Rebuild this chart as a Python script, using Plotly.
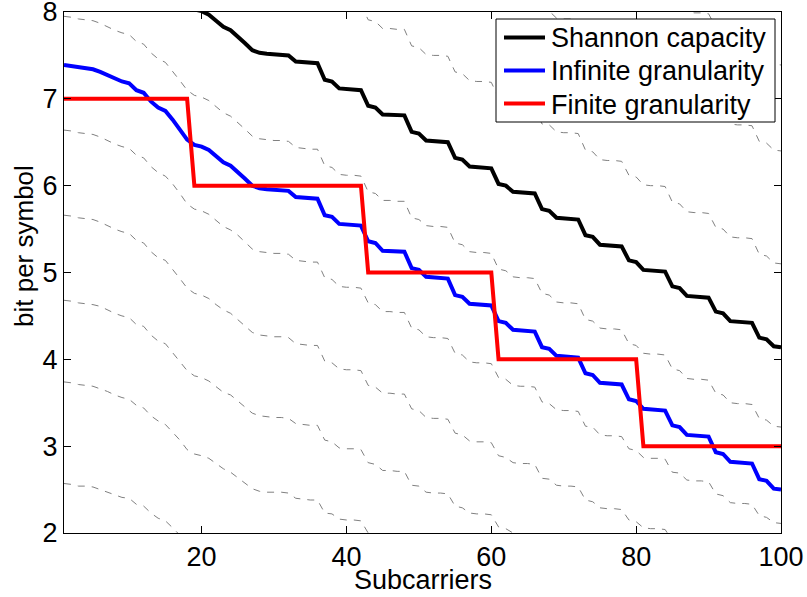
import plotly.graph_objects as go

subcarriers = list(range(1, 101))

shannon_capacity = [
    8.95, 8.94, 8.92, 8.91, 8.90, 8.87, 8.83, 8.79, 8.76, 8.74,
    8.66, 8.63, 8.53, 8.46, 8.42, 8.32, 8.21, 8.09, 8.03, 8.01,
    7.97, 7.90, 7.83, 7.79, 7.72, 7.64, 7.56, 7.53, 7.52, 7.51,
    7.51, 7.50, 7.43, 7.42, 7.41, 7.41, 7.22, 7.20, 7.12, 7.11,
    7.11, 7.10, 6.92, 6.90, 6.82, 6.82, 6.81, 6.81, 6.62, 6.60,
    6.52, 6.51, 6.51, 6.50, 6.32, 6.30, 6.22, 6.21, 6.21, 6.20,
    6.02, 6.00, 5.93, 5.92, 5.92, 5.91, 5.73, 5.71, 5.63, 5.62,
    5.62, 5.61, 5.43, 5.41, 5.32, 5.31, 5.31, 5.30, 5.14, 5.12,
    5.03, 5.02, 5.02, 5.01, 4.84, 4.82, 4.73, 4.72, 4.72, 4.71,
    4.55, 4.53, 4.44, 4.43, 4.43, 4.42, 4.25, 4.23, 4.15, 4.14,
]

infinite_granularity = [
    7.39, 7.38, 7.36, 7.35, 7.34, 7.31, 7.27, 7.23, 7.20, 7.18,
    7.10, 7.07, 6.97, 6.90, 6.86, 6.76, 6.65, 6.53, 6.47, 6.45,
    6.41, 6.34, 6.27, 6.23, 6.16, 6.08, 6.00, 5.97, 5.96, 5.95,
    5.95, 5.94, 5.87, 5.86, 5.85, 5.85, 5.66, 5.64, 5.56, 5.55,
    5.55, 5.54, 5.36, 5.34, 5.25, 5.25, 5.24, 5.24, 5.05, 5.03,
    4.95, 4.94, 4.94, 4.93, 4.74, 4.72, 4.64, 4.63, 4.63, 4.62,
    4.44, 4.42, 4.34, 4.33, 4.33, 4.32, 4.14, 4.12, 4.04, 4.03,
    4.03, 4.02, 3.84, 3.82, 3.73, 3.72, 3.72, 3.71, 3.54, 3.52,
    3.43, 3.42, 3.42, 3.41, 3.24, 3.22, 3.13, 3.12, 3.12, 3.11,
    2.93, 2.91, 2.82, 2.81, 2.81, 2.80, 2.62, 2.60, 2.51, 2.50,
]

finite_granularity = [
    7, 7, 7, 7, 7, 7, 7, 7, 7, 7, 7, 7, 7, 7, 7, 7, 7, 7,
    6, 6, 6, 6, 6, 6, 6, 6, 6, 6, 6, 6, 6, 6, 6, 6, 6, 6, 6, 6, 6, 6, 6, 6,
    5, 5, 5, 5, 5, 5, 5, 5, 5, 5, 5, 5, 5, 5, 5, 5, 5, 5,
    4, 4, 4, 4, 4, 4, 4, 4, 4, 4, 4, 4, 4, 4, 4, 4, 4, 4, 4, 4,
    3, 3, 3, 3, 3, 3, 3, 3, 3, 3, 3, 3, 3, 3, 3, 3, 3, 3, 3, 3,
]

# grey dashed curves: capacity at other SNR levels, each starts at its first subcarrier
snr_x10 = [8.29, 8.12, 8.10, 8.00, 7.99, 7.99, 7.98, 7.82, 7.80, 7.70,
           7.69, 7.69, 7.68, 7.50, 7.48, 7.40, 7.39]
snr_x10_start = 84

snr_x5 = [8.21, 8.03, 8.01, 7.93, 7.92, 7.92, 7.91, 7.73, 7.71, 7.61,
          7.60, 7.60, 7.59, 7.43, 7.41, 7.32, 7.31, 7.31, 7.30, 7.12,
          7.10, 7.01, 7.00, 7.00, 6.99, 6.82, 6.80, 6.71, 6.70, 6.70,
          6.69, 6.51, 6.49, 6.41, 6.40]
snr_x5_start = 66

snr_x2 = [8.09, 7.91, 7.89, 7.81, 7.81, 7.80, 7.80, 7.61, 7.59, 7.51,
          7.50, 7.50, 7.49, 7.31, 7.29, 7.21, 7.20, 7.20, 7.19, 7.01,
          6.99, 6.92, 6.91, 6.91, 6.90, 6.71, 6.70, 6.62, 6.61, 6.61,
          6.60, 6.41, 6.39, 6.30, 6.29, 6.29, 6.28, 6.12, 6.10, 6.01,
          6.00, 6.00, 5.99, 5.81, 5.79, 5.70, 5.69, 5.69, 5.68, 5.52,
          5.50, 5.41, 5.40, 5.40, 5.39, 5.21, 5.19, 5.11, 5.10]
snr_x2_start = 42

snr_d2 = [7.95, 7.94, 7.92, 7.91, 7.90, 7.87, 7.83, 7.79, 7.76, 7.74,
          7.66, 7.63, 7.53, 7.46, 7.42, 7.32, 7.21, 7.10, 7.04, 7.02,
          6.98, 6.91, 6.84, 6.80, 6.73, 6.65, 6.57, 6.54, 6.53, 6.52,
          6.52, 6.51, 6.44, 6.43, 6.42, 6.42, 6.23, 6.21, 6.13, 6.12,
          6.12, 6.11, 5.93, 5.91, 5.83, 5.83, 5.82, 5.82, 5.63, 5.61,
          5.54, 5.53, 5.53, 5.52, 5.34, 5.32, 5.24, 5.23, 5.23, 5.22,
          5.04, 5.02, 4.95, 4.94, 4.94, 4.93, 4.76, 4.74, 4.66, 4.65,
          4.65, 4.64, 4.46, 4.44, 4.36, 4.35, 4.35, 4.34, 4.18, 4.16,
          4.07, 4.06, 4.06, 4.05, 3.89, 3.87, 3.78, 3.77, 3.77, 3.76,
          3.61, 3.59, 3.50, 3.49, 3.49, 3.48, 3.32, 3.30, 3.23, 3.22]

snr_d5 = [6.64, 6.63, 6.61, 6.60, 6.59, 6.56, 6.52, 6.48, 6.45, 6.43,
          6.35, 6.32, 6.22, 6.15, 6.11, 6.02, 5.91, 5.79, 5.73, 5.71,
          5.67, 5.60, 5.53, 5.49, 5.43, 5.35, 5.27, 5.24, 5.23, 5.22,
          5.22, 5.21, 5.14, 5.13, 5.12, 5.12, 4.94, 4.92, 4.84, 4.83,
          4.83, 4.82, 4.65, 4.63, 4.55, 4.55, 4.54, 4.54, 4.36, 4.34,
          4.26, 4.25, 4.25, 4.24, 4.07, 4.05, 3.97, 3.96, 3.96, 3.95,
          3.79, 3.77, 3.70, 3.69, 3.69, 3.68, 3.51, 3.49, 3.42, 3.41,
          3.41, 3.40, 3.23, 3.22, 3.13, 3.12, 3.12, 3.11, 2.97, 2.95,
          2.87, 2.86, 2.86, 2.85, 2.70, 2.69, 2.61, 2.60, 2.60, 2.59,
          2.45, 2.43, 2.35, 2.34, 2.34, 2.33, 2.20, 2.18, 2.12, 2.11]

snr_d10 = [5.66, 5.65, 5.63, 5.62, 5.61, 5.58, 5.54, 5.50, 5.47, 5.45,
           5.37, 5.34, 5.24, 5.17, 5.14, 5.04, 4.93, 4.82, 4.76, 4.74,
           4.70, 4.63, 4.57, 4.53, 4.46, 4.38, 4.31, 4.28, 4.27, 4.26,
           4.26, 4.25, 4.18, 4.17, 4.16, 4.16, 3.98, 3.96, 3.89, 3.88,
           3.88, 3.87, 3.70, 3.68, 3.61, 3.61, 3.60, 3.60, 3.43, 3.41,
           3.33, 3.32, 3.32, 3.31, 3.15, 3.13, 3.06, 3.05, 3.05, 3.04,
           2.89, 2.87, 2.81, 2.80, 2.80, 2.79, 2.63, 2.62, 2.55, 2.54,
           2.54, 2.53, 2.38, 2.36, 2.29, 2.28, 2.28, 2.27, 2.15, 2.13,
           2.06, 2.05, 2.05, 2.04, 1.91, 1.90]

snr_d20 = [4.68, 4.67, 4.65, 4.64, 4.63, 4.61, 4.57, 4.53, 4.50, 4.48,
           4.40, 4.38, 4.28, 4.21, 4.18, 4.08, 3.98, 3.87, 3.81, 3.79,
           3.75, 3.69, 3.62, 3.59, 3.52, 3.45, 3.38, 3.35, 3.34, 3.33,
           3.33, 3.32, 3.26, 3.25, 3.24, 3.24, 3.07, 3.05, 2.98, 2.97,
           2.97, 2.96, 2.81, 2.79, 2.72, 2.72, 2.71, 2.71, 2.55, 2.54,
           2.47, 2.46, 2.46, 2.45, 2.31, 2.29, 2.23, 2.22, 2.22, 2.21,
           2.07, 2.05, 2.00, 1.99, 1.99, 1.98, 1.85]

snr_d40 = [3.74, 3.73, 3.71, 3.70, 3.69, 3.66, 3.63, 3.59, 3.56, 3.54,
           3.47, 3.44, 3.35, 3.29, 3.25, 3.16, 3.07, 2.96, 2.91, 2.89,
           2.86, 2.80, 2.74, 2.70, 2.64, 2.57, 2.51, 2.48, 2.47, 2.47,
           2.47, 2.46, 2.40, 2.39, 2.38, 2.38, 2.23, 2.22, 2.16, 2.15,
           2.15, 2.14, 2.00, 1.99, 1.93, 1.93]

snr_d100 = [2.57, 2.56, 2.54, 2.54, 2.53, 2.50, 2.47, 2.44, 2.41, 2.40,
            2.33, 2.31, 2.23, 2.17, 2.14, 2.06, 1.98, 1.89]

legend_names = ["Shannon capacity", "Infinite granularity", "Finite granularity"]
line_colors = ["black", "rgb(0,0,255)", "rgb(255,0,0)"]

FONT = "Liberation Sans, Arial, Helvetica, sans-serif"

fig = go.Figure()

dashed_curves = [
    (snr_x10, snr_x10_start),
    (snr_x5, snr_x5_start),
    (snr_x2, snr_x2_start),
    (snr_d2, 1),
    (snr_d5, 1),
    (snr_d10, 1),
    (snr_d20, 1),
    (snr_d40, 1),
    (snr_d100, 1),
]
for values, start in dashed_curves:
    fig.add_trace(
        go.Scatter(
            x=subcarriers[start - 1:start - 1 + len(values)],
            y=values,
            mode="lines",
            line=dict(color="rgb(128,128,128)", width=1, dash="7px,7px"),
            showlegend=False,
            hoverinfo="skip",
        )
    )

for name, values, color in zip(legend_names,
                               [shannon_capacity, infinite_granularity, finite_granularity],
                               line_colors):
    fig.add_trace(go.Scatter(x=subcarriers, y=values, mode="lines", name=name,
                             line=dict(color=color, width=4), showlegend=False))

axis_style = dict(
    showline=True,
    mirror="ticks",
    linecolor="black",
    linewidth=1,
    ticks="inside",
    ticklen=7,
    tickcolor="black",
    showgrid=False,
    zeroline=False,
    automargin=False,
    ticklabeloverflow="allow",
    tickfont=dict(family=FONT, size=27, color="black"),
)

# plot area in pixels: x 64..781, y 12..533
def px(x):
    return (x - 64) / 717


def py(y):
    return (533 - y) / 521


# legend drawn by hand so its rows sit as tight as in the reference
shapes = [dict(type="rect", xref="paper", yref="paper",
               x0=px(496), x1=px(775), y0=py(122), y1=py(19),
               line=dict(color="black", width=1), fillcolor="white", layer="above")]
annotations = []
for i, (name, color) in enumerate(zip(legend_names, line_colors)):
    row_y = 37.5 + 33 * i
    shapes.append(dict(type="line", xref="paper", yref="paper",
                       x0=px(504), x1=px(545), y0=py(row_y), y1=py(row_y),
                       line=dict(color=color, width=4), layer="above"))
    annotations.append(dict(text=name, xref="paper", yref="paper",
                            x=px(549), y=py(row_y + 1), xanchor="left", yanchor="middle",
                            showarrow=False, font=dict(family=FONT, size=27, color="black")))

annotations.append(dict(text="Subcarriers", xref="paper", yref="paper",
                        x=0.5, y=py(580), xanchor="center", yanchor="middle",
                        showarrow=False, font=dict(family=FONT, size=27, color="black")))
annotations.append(dict(text="bit per symbol", xref="paper", yref="paper",
                        x=px(24), y=py(246), xanchor="center", yanchor="middle", textangle=-90,
                        showarrow=False, font=dict(family=FONT, size=26, color="black")))

fig.update_layout(
    width=807,
    height=597,
    autosize=False,
    margin=dict(l=64, r=26, t=12, b=64, autoexpand=False),
    paper_bgcolor="white",
    plot_bgcolor="white",
    font=dict(family=FONT, size=27, color="black"),
    xaxis=dict(range=[1, 100], tickvals=[20, 40, 60, 80, 100], **axis_style),
    yaxis=dict(range=[2, 8], tickvals=[2, 3, 4, 5, 6, 7, 8], **axis_style),
    shapes=shapes,
    annotations=annotations,
    showlegend=False,
    hovermode=False,
)

# the page body has a default 8px margin; drop it so the figure fills the window
fig.write_html(
    "out.html",
    config={"displayModeBar": False},
    post_script="document.body.style.margin = '0px';",
)
